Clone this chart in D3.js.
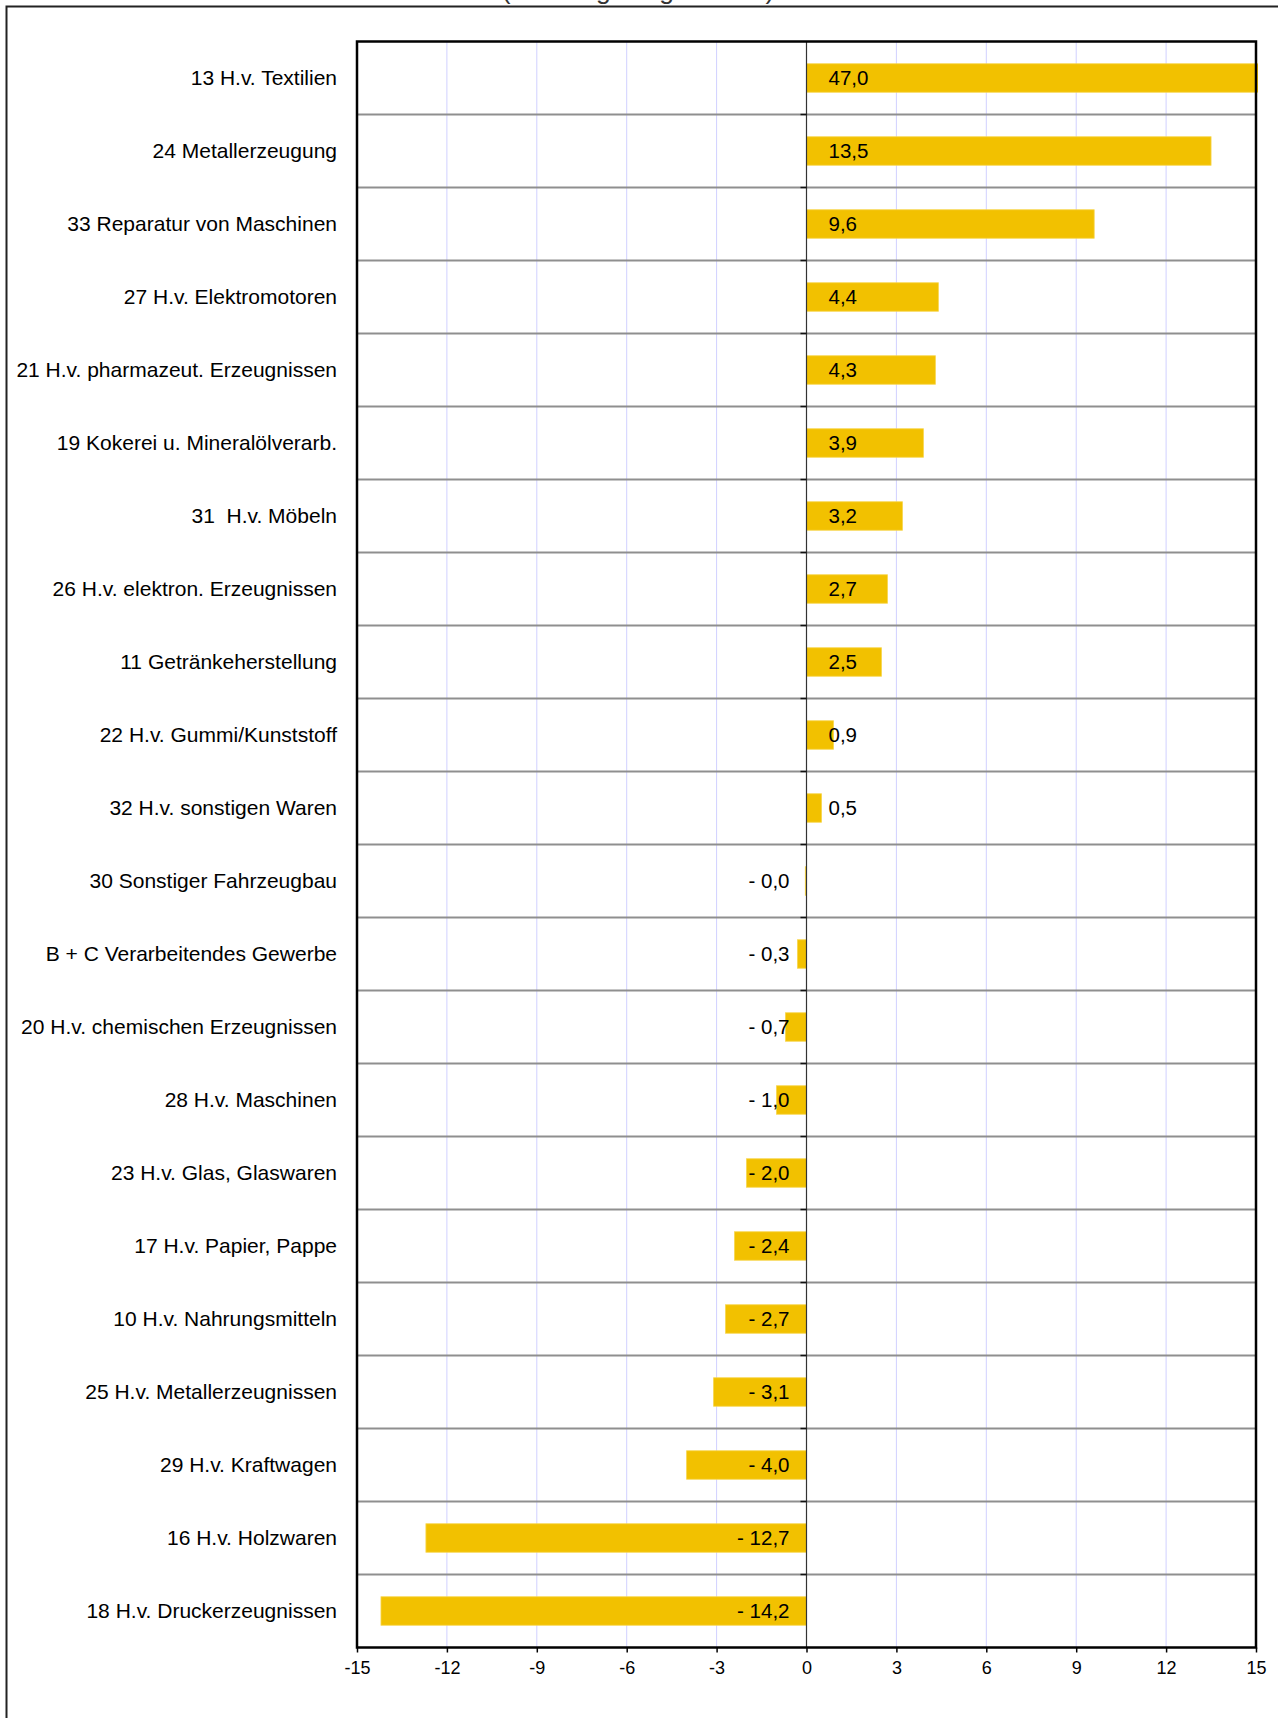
<!DOCTYPE html>
<html>
<head>
<meta charset="utf-8">
<script src="https://cdn.jsdelivr.net/npm/d3@7"></script>
<style>
  body { margin: 0; background: #fff; }
  svg { display: block; font-family: "Liberation Sans", Arial, sans-serif; }
</style>
</head>
<body>
<svg width="1278" height="1718"></svg>
<script>
// categories top to bottom
const categories = [
  "13 H.v. Textilien",
  "24 Metallerzeugung",
  "33 Reparatur von Maschinen",
  "27 H.v. Elektromotoren",
  "21 H.v. pharmazeut. Erzeugnissen",
  "19 Kokerei u. Mineralölverarb.",
  "31  H.v. Möbeln",
  "26 H.v. elektron. Erzeugnissen",
  "11 Getränkeherstellung",
  "22 H.v. Gummi/Kunststoff",
  "32 H.v. sonstigen Waren",
  "30 Sonstiger Fahrzeugbau",
  "B + C Verarbeitendes Gewerbe",
  "20 H.v. chemischen Erzeugnissen",
  "28 H.v. Maschinen",
  "23 H.v. Glas, Glaswaren",
  "17 H.v. Papier, Pappe",
  "10 H.v. Nahrungsmitteln",
  "25 H.v. Metallerzeugnissen",
  "29 H.v. Kraftwagen",
  "16 H.v. Holzwaren",
  "18 H.v. Druckerzeugnissen"
];

// change in percent
const values = [47.0, 13.5, 9.6, 4.4, 4.3, 3.9, 3.2, 2.7, 2.5, 0.9, 0.5,
  -0.04, -0.3, -0.7, -1.0, -2.0, -2.4, -2.7, -3.1, -4.0, -12.7, -14.2];

const xTicks = [-15, -12, -9, -6, -3, 0, 3, 6, 9, 12, 15];
const titleText = "(vorläufige Ergebnisse)";

const data = categories.map((c, i) => ({ name: c, value: values[i] }));

const svg = d3.select("svg");

const plotLeft = 357, plotRight = 1256, plotTop = 41.5, plotBottom = 1647.5;

const x = d3.scaleLinear().domain([-15, 15]).range([plotLeft, plotRight]);
const y = d3.scaleBand().domain(categories).range([plotTop, plotBottom]);
const bw = y.bandwidth();
const barH = bw * 0.39;

// outer frame (runs off the page on right and bottom)
svg.append("rect")
  .attr("x", 6.5).attr("y", 6.5)
  .attr("width", 1400).attr("height", 1900)
  .attr("fill", "none")
  .attr("stroke", "#222")
  .attr("stroke-width", 2);

// title, mostly cut off at the top like in the original
svg.append("text")
  .attr("x", 638).attr("y", -1)
  .attr("text-anchor", "middle")
  .attr("font-size", 26.5)
  .attr("fill", "#333")
  .text(titleText);

// vertical grid
svg.append("g")
  .selectAll("line")
  .data(xTicks)
  .join("line")
  .attr("x1", d => x(d)).attr("x2", d => x(d))
  .attr("y1", plotTop).attr("y2", plotBottom)
  .attr("stroke", "#d0d0ff")
  .attr("stroke-width", 1);

// row separators
svg.append("g")
  .selectAll("line")
  .data(categories.slice(1))
  .join("line")
  .attr("x1", plotLeft).attr("x2", plotRight)
  .attr("y1", d => y(d)).attr("y2", d => y(d))
  .attr("stroke", "#8f8f8f")
  .attr("stroke-width", 2);

// bars, clipped just past the right border
svg.append("clipPath").attr("id", "plotclip")
  .append("rect")
  .attr("x", plotLeft).attr("y", plotTop)
  .attr("width", plotRight - plotLeft + 2).attr("height", plotBottom - plotTop);

svg.append("g")
  .attr("clip-path", "url(#plotclip)")
  .selectAll("rect")
  .data(data)
  .join("rect")
  .attr("x", d => x(Math.min(0, d.value)))
  .attr("width", d => Math.max(1, Math.abs(x(d.value) - x(0))))
  .attr("y", d => y(d.name) + (bw - barH) / 2)
  .attr("height", barH)
  .attr("fill", "#f2c100")
  .attr("stroke", "#f7d54a")
  .attr("stroke-width", 0.8);

// zero line with small category ticks
svg.append("line")
  .attr("x1", x(0)).attr("x2", x(0))
  .attr("y1", plotTop).attr("y2", plotBottom)
  .attr("stroke", "#333")
  .attr("stroke-width", 1.2);

svg.append("g")
  .selectAll("line")
  .data(categories.slice(1))
  .join("line")
  .attr("x1", x(0) - 6).attr("x2", x(0))
  .attr("y1", d => y(d)).attr("y2", d => y(d))
  .attr("stroke", "#111")
  .attr("stroke-width", 1.5);

// plot border
svg.append("rect")
  .attr("x", plotLeft).attr("y", plotTop)
  .attr("width", plotRight - plotLeft).attr("height", plotBottom - plotTop)
  .attr("fill", "none")
  .attr("stroke", "#000")
  .attr("stroke-width", 2.5);

// bottom axis
const xAxis = svg.append("g")
  .attr("transform", "translate(0," + plotBottom + ")")
  .call(d3.axisBottom(x)
    .tickValues(xTicks)
    .tickSize(5)
    .tickPadding(9)
    .tickFormat(d => String(d)));
xAxis.select(".domain").remove();
xAxis.selectAll(".tick line").attr("stroke", "#000").attr("stroke-width", 1.5);
xAxis.selectAll("text")
  .attr("font-size", 18)
  .attr("font-family", "Liberation Sans, Arial, sans-serif")
  .attr("fill", "#000");

// category labels (keep the double space in "31  H.v. Möbeln")
svg.append("g")
  .selectAll("text")
  .data(categories)
  .join("text")
  .attr("x", plotLeft - 20)
  .attr("y", d => y(d) + bw / 2)
  .attr("dy", "0.35em")
  .attr("text-anchor", "end")
  .attr("font-size", 21)
  .attr("fill", "#000")
  .style("white-space", "pre")
  .text(d => d);

// value labels
const fmt = v => (v < 0 ? "- " : "") + Math.abs(v).toFixed(1).replace(".", ",");

svg.append("g")
  .selectAll("text")
  .data(data)
  .join("text")
  .attr("x", d => d.value < 0 ? x(0) - 17 : x(0) + 22)
  .attr("y", d => y(d.name) + bw / 2)
  .attr("dy", "0.35em")
  .attr("text-anchor", d => d.value < 0 ? "end" : "start")
  .attr("font-size", 20.5)
  .attr("fill", "#000")
  .text(d => fmt(d.value));
</script>
</body>
</html>
